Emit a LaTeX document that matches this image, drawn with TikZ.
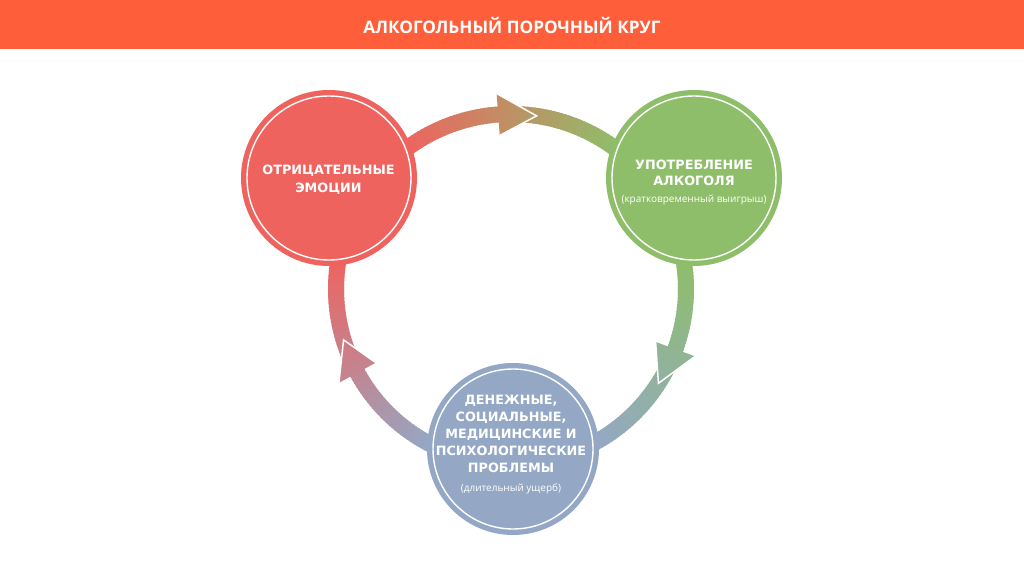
\documentclass[tikz,border=0pt]{standalone}
\usepackage{fontspec}
\setmainfont{Open Sans}
\newfontfamily\cfont{Open Sans}
\newfontfamily\dfont{DejaVu Sans}
\definecolor{cband}{RGB}{255,94,58}
\definecolor{cred}{RGB}{239,99,95}
\definecolor{cgreen}{RGB}{142,190,106}
\definecolor{cblue}{RGB}{148,168,197}
\tikzset{
  bigcirc/.style={circle, inner sep=0pt, draw=none},
  titletext/.style={text=white, font=\cfont\bfseries\fontsize{17.2}{17.2}\selectfont, anchor=base, inner sep=0pt},
  captext/.style={text=white, font=\dfont\bfseries\fontsize{12.8}{12.8}\selectfont, anchor=base, inner sep=0pt},
  smalltext/.style={text=white, font=\cfont\fontsize{10}{10}\selectfont, anchor=base, inner sep=0pt},
  innerring/.style={draw=white, line width=1.4pt},
  tipedge/.style={draw=white, line width=1.5pt, line join=miter}
}
% #1 start angle, #2 end angle, #3 start colour, #4 end colour
\newcommand{\gradarc}[4]{%
  \foreach \i in {0,...,59}{%
    \pgfmathsetmacro\aa{#1+(#2-#1)*\i/60}%
    \pgfmathsetmacro\ab{#1+(#2-#1)*(\i+1.4)/60}%
    \pgfmathsetmacro\pp{100*(\i+0.5)/60}%
    \colorlet{segc}{#4!\pp!#3}%
    \draw[segc, line width=16pt] ([shift={(\aa:175)}]ring) arc[start angle=\aa, end angle=\ab, radius=175];
  }%
}
% #1 base angle, #2 tip angle, #3 colour at base, #4 colour at tip, #5 shading angle, #6 name
\newcommand{\arrowhead}[6]{%
  \coordinate (#6b1) at ([shift={(#1:154)}]ring);
  \coordinate (#6b2) at ([shift={(#1:196)}]ring);
  \coordinate (#6t) at ([shift={(#2:175)}]ring);
  \shade[left color=#3, right color=#4, shading angle=#5] (#6b1) -- (#6t) -- (#6b2) -- cycle;
  \draw[tipedge] (#6b1) -- (#6t) -- (#6b2);
}
\begin{document}
\begin{tikzpicture}[x=1pt,y=1pt]
\useasboundingbox (0,0) rectangle (1024,560);
\fill[white] (0,0) rectangle (1024,560);
\fill[cband] (0,511) rectangle (1024,560);
\node[titletext] (title) at (512,526) {АЛКОГОЛЬНЫЙ ПОРОЧНЫЙ КРУГ};

\coordinate (ring) at (511,271);
% ring arcs with gradients
\gradarc{127}{53}{cred}{cgreen}
\gradarc{9}{-62}{cgreen}{cblue}
\gradarc{243}{170}{cblue}{cred}
% arrowheads
\colorlet{ta}{cgreen!44!cred}\colorlet{tb}{cgreen!62!cred}
\arrowhead{94.2}{81.6}{ta}{tb}{87.9}{top}
\colorlet{ra}{cblue!41!cgreen}\colorlet{rb}{cblue!59!cgreen}
\arrowhead{-20.1}{-32.6}{ra}{rb}{333.6}{rgt}
\colorlet{la}{cred!47!cblue}\colorlet{lb}{cred!65!cblue}
\arrowhead{208.6}{196.9}{la}{lb}{202.7}{lft}

% circles
\node[bigcirc, fill=cred, minimum size=176pt] (neg) at (329,382) {};
\draw[innerring] (neg.center) circle[radius=82];
\node[bigcirc, fill=cgreen, minimum size=176pt] (alc) at (694,382) {};
\draw[innerring] (alc.center) circle[radius=82];
\node[bigcirc, fill=cblue, minimum size=172pt] (prob) at (513,111) {};
\draw[innerring] (prob.center) circle[radius=80];

% texts
\node[captext] (neg1) at (328.5,385.7) {ОТРИЦАТЕЛЬНЫЕ};
\node[captext] (neg2) at (328.5,367.3) {ЭМОЦИИ};
\node[captext] (alc1) at (694,390.7) {УПОТРЕБЛЕНИЕ};
\node[captext] (alc2) at (694,374) {АЛКОГОЛЯ};
\node[smalltext] (alc3) at (694,357.5) {(кратковременный выигрыш)};
\node[captext] (prob1) at (511,156) {ДЕНЕЖНЫЕ,};
\node[captext] (prob2) at (511,139) {СОЦИАЛЬНЫЕ,};
\node[captext] (prob3) at (511,122) {МЕДИЦИНСКИЕ И};
\node[captext] (prob4) at (511,104.5) {ПСИХОЛОГИЧЕСКИЕ};
\node[captext] (prob5) at (511,87.3) {ПРОБЛЕМЫ};
\node[smalltext] (prob6) at (511,68.5) {(длительный ущерб)};
\end{tikzpicture}
\end{document}
